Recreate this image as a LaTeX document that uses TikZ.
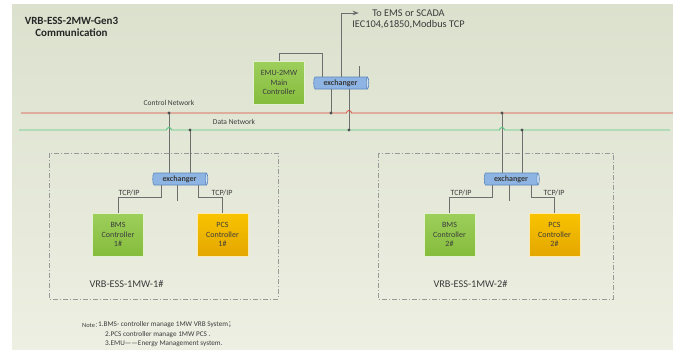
\documentclass[tikz,border=0pt]{standalone}
\usepackage{fontspec}
\setmainfont{Carlito}
\newfontfamily\cjk{Noto Sans CJK SC}
\usetikzlibrary{arrows.meta,calc,shapes.geometric}

\definecolor{bgtop}{HTML}{DCE1CE}
\definecolor{bgbot}{HTML}{EDEFE2}
\definecolor{ctrlred}{HTML}{D9493C}
\definecolor{datagreen}{HTML}{55C77E}
\definecolor{bmsgreen}{HTML}{8CC63F}
\definecolor{pcsorange}{HTML}{F7B500}
\definecolor{swblue}{HTML}{8DB4E2}
\definecolor{swedge}{HTML}{5A87BE}
\definecolor{wire}{HTML}{6E6E6E}
\definecolor{ink}{HTML}{3C3C3C}

\begin{document}
\begin{tikzpicture}[x=1pt, y=-1pt, >=Stealth,
		every node/.style={font=\fontsize{7.5}{8.5}\selectfont, text=ink},
		ctrlbox/.style={draw=white!75!bmsgreen, line width=0.8pt, top color=bmsgreen!85!white, bottom color=bmsgreen!95!black,
			minimum width=51pt, minimum height=43pt, align=center, inner sep=1pt, font=\fontsize{8}{9.5}\selectfont},
		pcsbox/.style={ctrlbox, draw=white!70!pcsorange, top color=pcsorange!80!yellow, bottom color=pcsorange!92!black},
		switch/.style={cylinder, shape aspect=0.35, draw=swedge, line width=0.6pt, cylinder uses custom fill,
			cylinder body fill=swblue, cylinder end fill=swblue!45!white,
			minimum width=12pt, minimum height=55pt, inner sep=0pt, font=\fontsize{8}{8}\selectfont\bfseries, text=ink},
		link/.style={draw=wire, line width=0.7pt},
		group/.style={draw=gray!80, line width=0.5pt, dash pattern=on 5pt off 2pt on 1pt off 2pt},
		tcp/.style={above, inner sep=1pt, font=\fontsize{8}{9}\selectfont},
		big/.style={font=\fontsize{10.3}{12}\selectfont},
		notetext/.style={anchor=west, inner sep=0, font=\fontsize{7.2}{8}\selectfont},
		tapdot/.style={fill=ink!90}]
	
	% canvas
	\useasboundingbox (0,0) rectangle (673,349);
	\fill[top color=bgtop, bottom color=bgbot] (12,4) rectangle (673,349);
	
	% title
	\node[align=center, font=\fontsize{11}{12}\selectfont\bfseries, text=black!85] (title) at (71.5,27) {VRB-ESS-2MW-Gen3\\Communication};
	
	% main controller and its exchanger
	\node[ctrlbox] (emu) at (279,82.5) {EMU-2MW\\Main\\Controller};
	\node[switch] (ex0) at (340.5,83) {exchanger};
	\node[big] (ems) at (408.5,13) {To EMS or SCADA};
	\node[big] (proto) at (408.5,25) {IEC104,61850,Modbus TCP};
	
	\draw[link] (emu.north) -- ++(0,-7) -| ([xshift=-18.5pt]ex0.north);
	\draw[link, ->] ([xshift=0.5pt]ex0.north) |- ([xshift=-10pt]ems.west);
	\draw[link] ([xshift=18.5pt]ex0.north) -- ++(0,-11);
	
	% taps on the two networks
	\coordinate (cn0) at (331,113);
	\coordinate (cn1) at (169,113);
	\coordinate (cn2) at (502,113);
	\coordinate (dn0) at (349,130);
	\coordinate (dn1) at (190,130);
	\coordinate (dn2) at (522,130);
	
	% the two subsystems
	\draw[group] (49,153) rectangle (278,299);
	\draw[group] (378,153) rectangle (613,299);
	
	\node[switch] (ex1) at (179.5,179) {exchanger};
	\node[ctrlbox] (bms1) at (118,234.5) {BMS\\Controller\\1\#};
	\node[pcsbox] (pcs1) at (222.5,234.5) {PCS\\Controller\\1\#};
	\node[big] (sys1) at (126.5,284) {VRB-ESS-1MW-1\#};
	
	\node[switch] (ex2) at (511,179) {exchanger};
	\node[ctrlbox] (bms2) at (449.5,234.5) {BMS\\Controller\\2\#};
	\node[pcsbox] (pcs2) at (554.5,234.5) {PCS\\Controller\\2\#};
	\node[big] (sys2) at (470.5,284) {VRB-ESS-1MW-2\#};
	
	% drops from the networks
	\draw[link] (ex0.south -| cn0) -- (cn0);
	\draw[link] (ex0.south -| dn0) -- (dn0);
	\draw[link] (cn1) -- (ex1.north -| cn1);
	\draw[link] (dn1) -- (ex1.north -| dn1);
	\draw[link] (cn2) -- (ex2.north -| cn2);
	\draw[link] (dn2) -- (ex2.north -| dn2);
	
	% exchanger to controllers
	\draw[link] ([xshift=-18.5pt]ex1.south) -- ++(0,12) -| (bms1.north);
	\draw[link] ([xshift=18.5pt]ex1.south) -- ++(0,12) -| (pcs1.north);
	\draw[link] ([xshift=-2.5pt]ex1.south) -- ++(0,16);
	\draw[link] ([xshift=-19pt]ex2.south) -- ++(0,12) -| (bms2.north);
	\draw[link] ([xshift=20pt]ex2.south) -- ++(0,12) -| (pcs2.north);
	\draw[link] ([xshift=-2pt]ex2.south) -- ++(0,16);
	\node[tcp] (tcp1) at (129,197) {TCP/IP};
	\node[tcp] (tcp2) at (222,197) {TCP/IP};
	\node[tcp] (tcp3) at (461,197) {TCP/IP};
	\node[tcp] (tcp4) at (554,197) {TCP/IP};
	
	% control network (hop over data drop)
	\draw[ctrlred, line width=0.8pt] (21,113) -- ($(dn0|-cn0)+(-2.5,0)$) arc[start angle=180, end angle=360, radius=2.5] -- (673,113);
	\node (ctrl) at (169,103) {Control Network};
	
	% data network (hops over control drops)
	\draw[datagreen, line width=0.9pt] (19,130) -- ($(cn1|-dn0)+(-2.5,0)$) arc[start angle=180, end angle=360, radius=2.5]
		-- ($(cn2|-dn0)+(-2.5,0)$) arc[start angle=180, end angle=360, radius=2.5] -- (670,130);
	\node (data) at (234,122) {Data Network};
	
	\foreach \tap in {cn0,cn1,cn2,dn0,dn1,dn2}
		\fill[tapdot] (\tap) circle (1.6);
	
	% notes
	\node[notetext, font=\fontsize{6.4}{7}\selectfont] (note) at (82,325) {Note{\cjk ：}};
	\node[notetext] (note1) at (98,325) {1.BMS- controller manage 1MW VRB System{\cjk ；}};
	\node[notetext] (note2) at (105,334.5) {2.PCS controller manage 1MW PCS .};
	\node[notetext] (note3) at (105,344) {3.EMU——Energy Management system.};
	
\end{tikzpicture}
\end{document}
